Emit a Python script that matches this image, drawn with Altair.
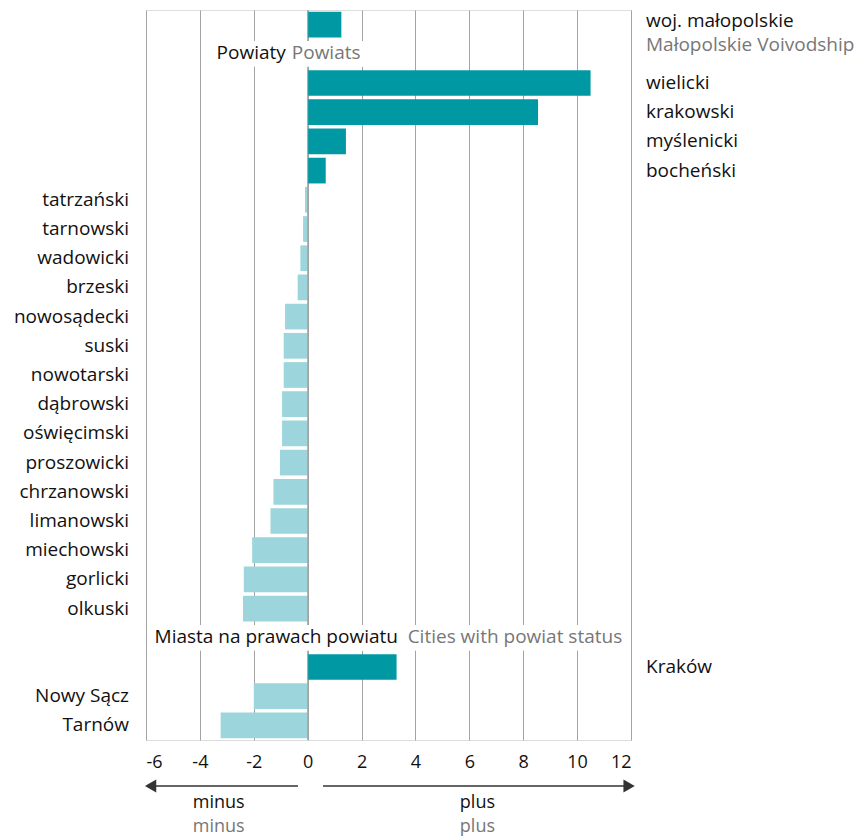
import altair as alt
import pandas as pd

# ---------------- data ----------------
region = ["woj. małopolskie"]
region_en = ["Małopolskie Voivodship"]
region_val = [1.25]

powiaty = ["wielicki", "krakowski", "myślenicki", "bocheński", "tatrzański",
           "tarnowski", "wadowicki", "brzeski", "nowosądecki", "suski",
           "nowotarski", "dąbrowski", "oświęcimski", "proszowicki",
           "chrzanowski", "limanowski", "miechowski", "gorlicki", "olkuski"]
powiaty_val = [10.5, 8.55, 1.42, 0.67, -0.1, -0.17, -0.27, -0.37, -0.84,
               -0.89, -0.89, -0.95, -0.95, -1.03, -1.27, -1.38, -2.06,
               -2.37, -2.4]

miasta = ["Kraków", "Nowy Sącz", "Tarnów"]
miasta_val = [3.3, -2.0, -3.23]

header_pl = ["Powiaty", "Miasta na prawach powiatu"]
header_en = ["Powiats", "Cities with powiat status"]
header_key = ["H1", "H2"]

x_ticks = [-6, -4, -2, 0, 2, 4, 6, 8, 10, 12]

# ---------------- tables ----------------
row_order = region + ["H1"] + powiaty + ["H2"] + miasta
bars = pd.DataFrame({
    "row": region + powiaty + miasta,
    "value": region_val + powiaty_val + miasta_val,
})
bars["is_region"] = bars["row"].isin(region)
hdr = pd.DataFrame({"row": header_key, "pl": header_pl, "en": header_en,
                    "x1": [-3.5, -5.72], "x2": [3.32, 11.8],
                    "xpl": [-0.81, 3.35], "xen": [-0.59, 3.71]})
reg = pd.DataFrame({"row": region, "pl": region, "en": region_en})
one = pd.DataFrame({"k": [0]})

DARK = "#0099a3"
LIGHT = "#9cd5db"
GRID = "#a3a3a3"
TXT = "#111111"
GREY = "#777777"
FONT = "Open Sans"
FS = 19

yenc = alt.Y("row:N", sort=row_order,
             scale=alt.Scale(domain=row_order, paddingInner=0.12, paddingOuter=0.06),
             axis=None)
xscale = alt.Scale(domain=[-6, 12], nice=False, zero=False)

base = alt.Chart(bars)

bar_layer = base.mark_bar().encode(
    x=alt.X("value:Q", scale=xscale,
            axis=alt.Axis(values=x_ticks, grid=True, gridColor=GRID, gridWidth=1,
                          domain=False, ticks=False, labelFontSize=18,
                          labelColor=TXT, labelFont=FONT, labelPadding=13,
                          labelExpr="'' + datum.value", title=None)),
    y=yenc,
    color=alt.condition(alt.datum.value > 0, alt.value(DARK), alt.value(LIGHT)),
)

zero_rule = alt.Chart(one).mark_rule(color=GRID, strokeWidth=1).encode(
    x=alt.datum(0)
)

hdr_box = alt.Chart(hdr).mark_rect(color="white").encode(
    x=alt.X("x1:Q", scale=xscale), x2="x2:Q", y=yenc
)
hdr_pl = alt.Chart(hdr).mark_text(align="right", baseline="middle", font=FONT,
                                  fontSize=FS, color=TXT, dy=-1).encode(
    x=alt.X("xpl:Q", scale=xscale), y=yenc, text="pl:N"
)
hdr_en = alt.Chart(hdr).mark_text(align="left", baseline="middle", font=FONT,
                                  fontSize=FS, color=GREY, dy=-1).encode(
    x=alt.X("xen:Q", scale=xscale), y=yenc, text="en:N"
)

right_lab = base.transform_filter(
    (alt.datum.value > 0) & (~alt.datum.is_region)
).mark_text(align="left", baseline="middle", font=FONT, fontSize=FS,
            color=TXT, dx=15).encode(
    x=alt.datum(12), y=yenc, text="row:N"
)
left_lab = base.transform_filter(alt.datum.value < 0).mark_text(
    align="right", baseline="middle", font=FONT, fontSize=FS, color=TXT, dx=-17
).encode(x=alt.datum(-6), y=yenc, text="row:N")

reg_pl = alt.Chart(reg).mark_text(align="left", baseline="middle", font=FONT,
                                  fontSize=FS, color=TXT, dx=15, dy=-4).encode(
    x=alt.datum(12), y=yenc, text="pl:N"
)
reg_en = alt.Chart(reg).mark_text(align="left", baseline="middle", font=FONT,
                                  fontSize=FS, color=GREY, dx=15, dy=20).encode(
    x=alt.datum(12), y=yenc, text="en:N"
)

# arrows under the axis
AY = 776
ARW = "#333333"
arr_l = alt.Chart(one).mark_rule(color=ARW, strokeWidth=1.5).encode(
    x=alt.datum(-0.36), x2=alt.datum(-5.75), y=alt.value(AY)
)
arr_r = alt.Chart(one).mark_rule(color=ARW, strokeWidth=1.5).encode(
    x=alt.datum(0.57), x2=alt.datum(11.85), y=alt.value(AY)
)
head_l = alt.Chart(one).mark_point(shape="triangle-left", filled=True, size=170,
                                   color=ARW, opacity=1).encode(
    x=alt.datum(-5.83), y=alt.value(AY)
)
head_r = alt.Chart(one).mark_point(shape="triangle-right", filled=True, size=170,
                                   color=ARW, opacity=1).encode(
    x=alt.datum(11.93), y=alt.value(AY)
)


def word(txt, xv, yv, col):
    return alt.Chart(one).mark_text(text=txt, font=FONT, fontSize=18, color=col,
                                    align="center", baseline="middle").encode(
        x=alt.datum(xv), y=alt.value(yv))


minus1 = word("minus", -3.3, 793, TXT)
minus2 = word("minus", -3.3, 817, GREY)
plus1 = word("plus", 6.3, 793, TXT)
plus2 = word("plus", 6.3, 817, GREY)

chart = alt.layer(
    bar_layer, zero_rule, hdr_box, hdr_pl, hdr_en, right_lab, left_lab,
    reg_pl, reg_en, arr_l, arr_r, head_l, head_r, minus1, minus2, plus1, plus2
).properties(
    width=485, height=730,
    padding={"left": 138, "top": 2, "right": 225, "bottom": 100},
    autosize=alt.AutoSizeParams(type="none"),
).configure_view(stroke=None).configure(font=FONT)

chart.save("out.html", embed_options={"renderer": "svg", "actions": False})
